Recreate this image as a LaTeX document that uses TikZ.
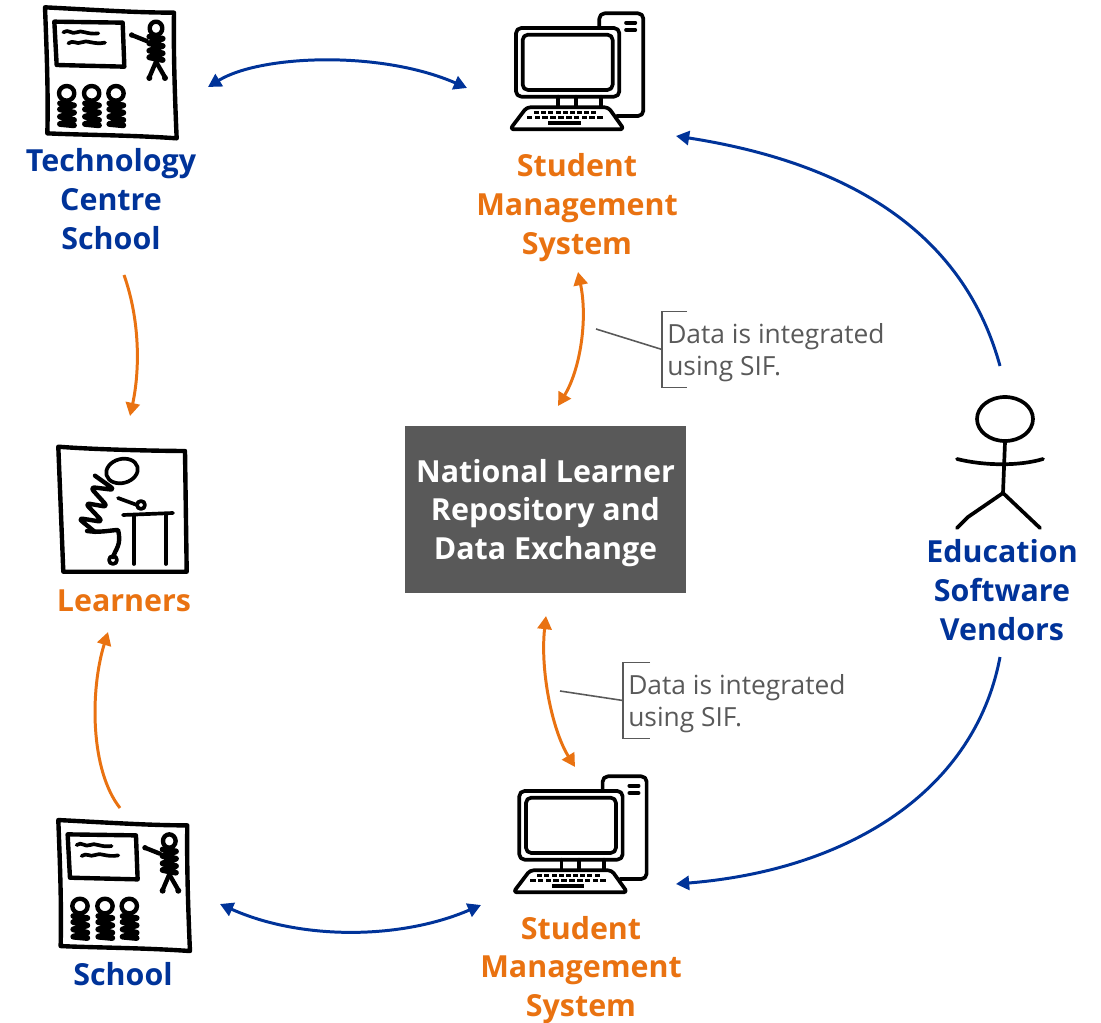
\documentclass[tikz,border=0pt]{standalone}
\usepackage{fontspec}
\setmainfont{Open Sans}
\usetikzlibrary{arrows.meta}
\definecolor{vendorblue}{HTML}{003399}
\definecolor{sysorange}{HTML}{E97211}
\definecolor{notegrey}{HTML}{595959}
\tikzset{
  bluelink/.style={draw=vendorblue,line width=1.7pt,{Triangle[width=8pt,length=7.5pt]}-{Triangle[width=8pt,length=7.5pt]}},
  bluearrow/.style={draw=vendorblue,line width=1.7pt,-{Triangle[width=8pt,length=7.5pt]}},
  orangelink/.style={draw=sysorange,line width=1.7pt,{Triangle[width=8pt,length=7.5pt]}-{Triangle[width=8pt,length=7.5pt]}},
  orangearrow/.style={draw=sysorange,line width=1.7pt,-{Triangle[width=8pt,length=7.5pt]}},
  bluelabel/.style={text=vendorblue,font=\fontsize{17.3}{22}\selectfont\bfseries,align=center},
  orangelabel/.style={text=sysorange,font=\fontsize{17.3}{22}\selectfont\bfseries,align=center},
  notetext/.style={text=notegrey,font=\fontsize{15}{18.5}\selectfont,align=left,inner sep=0pt,minimum height=75*0.02cm,anchor=west,text depth=0pt},
  bracket/.style={draw=notegrey,line width=0.9pt},
  sketch/.style={line width=2.1pt,line join=round,line cap=round},
  heavy/.style={line width=2.5pt,line join=round,line cap=round},
  coil/.style={line width=3.3pt,line cap=round,line join=round},
  pics/classroom/.style={code={
    \begin{scope}[scale=1/3]
    \draw[heavy,fill=white] (45,22) .. controls (200,30) and (320,38) .. (432,38) .. controls (430,160) and (435,300) .. (440,415) .. controls (300,405) and (150,405) .. (52,400) .. controls (55,280) and (50,150) .. (45,22) -- cycle;
    \draw[heavy] (73,65) -- (278,68) -- (283,200) -- (80,195) -- cycle;
    \draw[sketch] (100,97) .. controls (115,85) and (125,105) .. (140,97) .. controls (155,88) and (170,105) .. (205,100);
    \draw[sketch] (115,130) .. controls (130,118) and (140,135) .. (155,127) .. controls (170,118) and (190,135) .. (225,128);
    % teacher
    \draw[heavy] (378,85) ellipse (19 and 20);
    \draw[coil] (358,110) -- (398,116) -- (358,130) -- (398,138) -- (358,152) -- (398,160) -- (358,172) -- (398,180);
    \draw[heavy] (350,123) -- (305,105);
    \fill (305,105) circle (8);
    \draw[heavy] (378,185) -- (358,232);
    \draw[heavy] (378,185) -- (405,232);
    \fill (358,234) circle (9);
    \fill (405,234) circle (9);
    % pupils
    \foreach \px in {110,185,258}{
      \draw[heavy] (\px,280) ellipse (23 and 22);
      \draw[coil] (\px-20,310) -- (\px+22,316) -- (\px-20,328) -- (\px+22,338) -- (\px-20,350) -- (\px+22,360) -- (\px-20,372) -- (\px+22,376);
    }
    \end{scope}
  }},
  pics/computer/.style={code={
    \begin{scope}[scale=1/3]
    \draw[sketch,fill=white,rounded corners=3] (328,82) -- (328,40) -- (460,40) -- (460,348) -- (380,348);
    \draw[sketch] (408,68) -- (436,68) (408,90) -- (436,90);
    \draw[sketch,fill=white,rounded corners=3] (78,84) rectangle (388,290);
    \draw[sketch,rounded corners=3] (98,104) rectangle (368,270);
    \draw[sketch] (205,290) -- (205,322) (258,290) -- (258,322) (333,290) -- (333,322);
    \draw[sketch,fill=white,rounded corners=2] (110,322) -- (355,322) -- (402,388) -- (60,388) -- cycle;
    \foreach \kx in {0,...,8}{
      \fill (132+\kx*21.5,333) rectangle ++(15,8);
    }
    \foreach \kx in {0,...,9}{
      \fill (110+\kx*23.5,348) rectangle ++(17,9);
    }
    \fill (175,364) rectangle (272,375);
    \end{scope}
  }}
}
\begin{document}
\begin{tikzpicture}[x=0.02cm,y=-0.02cm]
\useasboundingbox (0,0) rectangle (1101,1023);

\pic at (30,0) {classroom};
\pic at (43.3,812.7) {classroom};
\pic at (490,0) {computer};
\pic at (493.3,763) {computer};

%learners
\draw[heavy] (58.3,446.7) .. controls (100,450) and (170,451) .. (185,451) -- (186.7,571.7) -- (63.3,571.7) -- cycle;
\draw[sketch,rotate around={15:(122,471)}] (122,471) ellipse (16 and 12);
\draw[heavy,rounded corners=3] (95,475.7) -- (115,490) -- (90,487) -- (108,507) -- (85,503) -- (103,522) -- (78,518) -- (95,532);
\draw[heavy] (87,531) .. controls (100,533) and (112,530) .. (118,530) .. controls (122,545) and (115,550) .. (113,557);
\draw[sketch] (113,560) circle (4);
\draw[sketch] (118,498) -- (137,505);
\draw[sketch] (141,505) circle (4);
\draw[sketch] (123,515) -- (173,513);
\draw[sketch] (134,515) -- (134,564);
\draw[sketch] (166,515) -- (166,564);

%vendor
\draw[sketch] (1005,419) ellipse (28 and 22);
\draw[sketch] (1005,442) -- (1003,493);
\draw[sketch] (957,459) .. controls (985,466) and (1020,466) .. (1043,459);
\draw[sketch] (1003,493) -- (968,517) -- (957,528);
\draw[sketch] (1003,493) -- (1040,528);

\node[fill=notegrey,text=white,minimum width=281*0.02cm,minimum height=167*0.02cm,align=center,font=\fontsize{17.3}{22}\selectfont\bfseries] (repo) at (545.5,509.5) {\rule{0pt}{17pt}National Learner\\Repository and\\Data Exchange};

\node[bluelabel] (tech) at (111,199) {Technology\\Centre\\School};
\node[orangelabel] (sms1) at (577,207.5) {Student\\Management\\System};
\node[orangelabel] (learn) at (124,600.5) {Learners};
\node[bluelabel] (school) at (123,974) {School};
\node[orangelabel] (sms2) at (581,970) {Student\\Management\\System};
\node[bluelabel] (vendor) at (1002,590) {Education\\Software\\Vendors};

\node[notetext] (note1) at (662,349.5) {\hspace{7\pgflinewidth}Data is integrated\\\hspace{7\pgflinewidth}using SIF.};
\node[notetext] (note2) at (623,700.5) {\hspace{7\pgflinewidth}Data is integrated\\\hspace{7\pgflinewidth}using SIF.};
\draw[bracket] ([xshift=25*0.02cm]note1.north west) -- (note1.north west) -- (note1.south west) -- ++(25,0);
\draw[bracket] ([xshift=27*0.02cm]note2.north west) -- (note2.north west) -- (note2.south west) -- ++(27,0);
\coordinate (lead1) at (596,329);
\coordinate (lead2) at (560,691);
\draw[bracket] (lead1) -- (note1.west);
\draw[bracket] (lead2) -- (note2.west);

\coordinate (a1) at (208,87);
\coordinate (a2) at (467,88);
\coordinate (b1) at (1000,366);
\coordinate (b2) at (676,136);
\coordinate (c1) at (1000,657);
\coordinate (c2) at (676,884);
\coordinate (d1) at (220,904);
\coordinate (d2) at (481,905);
\coordinate (e1) at (124,275);
\coordinate (e2) at (130,416);
\coordinate (f1) at (120,808);
\coordinate (f2) at (108,632);
\coordinate (g1) at (578,272);
\coordinate (g2) at (558,406);
\coordinate (h1) at (546,616);
\coordinate (h2) at (575,767);

\draw[bluelink] (a1) .. controls (260,55) and (380,50) .. (a2);
\draw[bluearrow] (b1) .. controls (960,220) and (830,160) .. (b2);
\draw[bluearrow] (c1) .. controls (975,790) and (850,870) .. (c2);
\draw[bluelink] (d1) .. controls (300,940) and (400,940) .. (d2);
\draw[orangearrow] (e1) .. controls (140,320) and (140,370) .. (e2);
\draw[orangearrow] (f1) .. controls (90,770) and (90,690) .. (f2);
\draw[orangelink] (g1) .. controls (588,320) and (580,370) .. (g2);
\draw[orangelink] (h1) .. controls (540,670) and (552,730) .. (h2);

\end{tikzpicture}
\end{document}
